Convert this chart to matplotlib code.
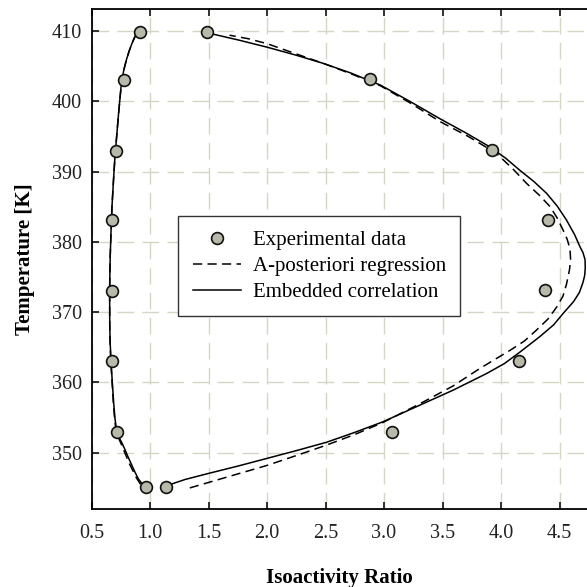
import matplotlib
matplotlib.use("Agg")
import matplotlib.pyplot as plt
import numpy as np

plt.rcParams['font.family'] = ['Liberation Serif', 'DejaVu Serif']

# experimental points (isoactivity ratio, temperature K)
exp_x = [0.915, 0.78, 0.707, 0.678, 0.678, 0.673, 0.72, 0.963,
         1.485, 2.88, 3.92, 4.40, 4.375, 4.15, 3.07, 1.14]
exp_T = [409.8, 403.0, 392.9, 383.1, 373.0, 363.0, 353.0, 345.1,
         409.8, 403.2, 393.0, 383.1, 373.1, 363.0, 352.9, 345.1]

# embedded correlation (solid)
emb_left_x = [0.94, 0.90, 0.87, 0.84, 0.81, 0.785, 0.76, 0.735, 0.715, 0.70, 0.69, 0.678, 0.667, 0.66, 0.656, 0.655,
              0.657, 0.66, 0.667, 0.675, 0.687, 0.70, 0.715, 0.73, 0.745, 0.758, 0.78, 0.80, 0.823, 0.845, 0.866, 0.886]
emb_left_T = [345.4, 346.3, 347.3, 348.4, 349.5, 350.5, 351.4, 352.2, 353.0, 355.0, 357.0, 360.0, 363.0, 365.5, 368.0, 373.0,
              375.5, 378.0, 381.5, 385.0, 388.5, 392.0, 395.0, 398.0, 400.7, 403.0, 404.7, 406.0, 407.2, 408.2, 409.0, 409.6]
emb_right_x = [1.157, 1.30, 1.485, 1.75, 2.0, 2.25, 2.51, 2.75, 2.99, 3.31, 3.59, 3.88, 4.03, 4.16, 4.33, 4.45, 4.53, 4.62,
               4.67, 4.70, 4.715, 4.72, 4.718, 4.70, 4.675, 4.63, 4.56, 4.48, 4.39, 4.28, 4.16, 4.04, 3.906, 3.70,
               3.48, 3.22, 2.97, 2.72, 2.48, 2.24, 2.0, 1.76, 1.527]
emb_right_T = [345.4, 346.2, 347.0, 348.1, 349.2, 350.3, 351.5, 352.9, 354.4, 356.8, 358.9, 361.3, 362.7, 364.3, 366.5,
               368.2, 369.8, 371.5, 372.8, 374.2, 375.2, 376.3, 377.5, 378.5, 379.3, 381.0, 383.1, 385.1, 386.9, 388.6,
               390.2, 391.9, 393.5, 395.5, 397.5, 400.0, 402.3, 404.0, 405.4, 406.6, 407.7, 408.7, 409.6]

# a-posteriori regression (dashed)
apo_left_x = [0.92, 0.885, 0.855, 0.825, 0.80, 0.775, 0.75, 0.728, 0.71, 0.697, 0.687, 0.676, 0.665, 0.659, 0.656, 0.655,
              0.657, 0.66, 0.667, 0.675, 0.687, 0.70, 0.715, 0.73, 0.745, 0.758, 0.78, 0.80, 0.823, 0.845, 0.863, 0.88]
apo_left_T = [345.5, 346.4, 347.4, 348.4, 349.4, 350.4, 351.4, 352.2, 353.0, 355.0, 357.0, 360.0, 363.0, 365.5, 368.0, 373.0,
              375.5, 378.0, 381.5, 385.0, 388.5, 392.0, 395.0, 398.0, 400.7, 403.0, 404.7, 406.0, 407.2, 408.2, 408.9, 409.5]
apo_right_x = [1.34, 1.67, 2.0, 2.25, 2.51, 2.75, 2.99, 3.31, 3.59, 3.82, 4.08, 4.20, 4.30, 4.40, 4.475, 4.53, 4.56,
               4.585, 4.595, 4.59, 4.565, 4.53, 4.48, 4.42, 4.33, 4.22, 4.10, 3.96, 3.72, 3.48, 3.22, 2.97, 2.72,
               2.48, 2.24, 2.0, 1.84, 1.68]
apo_right_T = [345.0, 346.6, 348.2, 349.6, 351.1, 352.6, 354.3, 357.0, 359.5, 362.0, 364.6, 365.9, 367.4, 369.0, 370.7,
               372.3, 374.0, 376.0, 377.4, 379.0, 380.4, 381.7, 383.4, 385.0, 386.6, 388.3, 390.4, 392.6, 395.0, 397.1,
               399.8, 402.2, 403.9, 405.4, 406.8, 408.2, 408.9, 409.4]

fig = plt.figure(figsize=(5.87, 5.87), dpi=100)
ax = fig.add_axes([91.5/587, 78/587, 495.5/587, 500.5/587])

grid_col = '#d6d6c6'
ax.grid(True, color=grid_col, linestyle=(0, (12, 6)), linewidth=1.0)
ax.set_axisbelow(True)

ax.plot(apo_left_x, apo_left_T, color='black', linestyle=(0, (6, 3.5)), linewidth=1.1)
ax.plot(apo_right_x, apo_right_T, color='black', linestyle=(0, (6, 3.5)), linewidth=1.1,
        label='A-posteriori regression')
ax.plot(emb_left_x, emb_left_T, color='black', linewidth=1.1)
ax.plot(emb_right_x, emb_right_T, color='black', linewidth=1.1,
        label='Embedded correlation')
ax.plot(exp_x, exp_T, 'o', markersize=8.5, markerfacecolor='#b9b9a9',
        markeredgecolor='#111111', markeredgewidth=1.2, label='Experimental data',
        zorder=5)

ax.set_xlim(0.5, 4.735)
ax.set_ylim(342, 413.2)
ax.set_xticks(np.arange(0.5, 4.51, 0.5))
ax.set_xticklabels(['0.5', '1.0', '1.5', '2.0', '2.5', '3.0', '3.5', '4.0', '4.5'])
ax.set_yticks([350, 360, 370, 380, 390, 400, 410])

ax.spines['right'].set_visible(False)
for s in ['left', 'top', 'bottom']:
    ax.spines[s].set_linewidth(1.3)
ax.tick_params(direction='in', length=5, width=1.3, top=True, labelsize=14.5, colors='#222222')
ax.tick_params(axis='x', pad=11)
ax.tick_params(axis='y', pad=7)

ax.set_xlabel('Isoactivity Ratio', fontsize=15, fontweight='bold', labelpad=18)
ax.set_ylabel('Temperature [K]', fontsize=15, fontweight='bold', labelpad=12)

h, l = ax.get_legend_handles_labels()
order = [2, 0, 1]
leg = ax.legend([h[i] for i in order], [l[i] for i in order], loc='upper left',
                bbox_to_anchor=(178/587, 1 - 216/587), bbox_transform=fig.transFigure,
                fontsize=15, frameon=True, fancybox=False, framealpha=1,
                edgecolor='#333333', handlelength=2.3, handletextpad=0.58,
                labelspacing=0.3, borderpad=0.7, borderaxespad=0)
leg.get_frame().set_linewidth(1.0)

fig.savefig('out.png', dpi=100)
